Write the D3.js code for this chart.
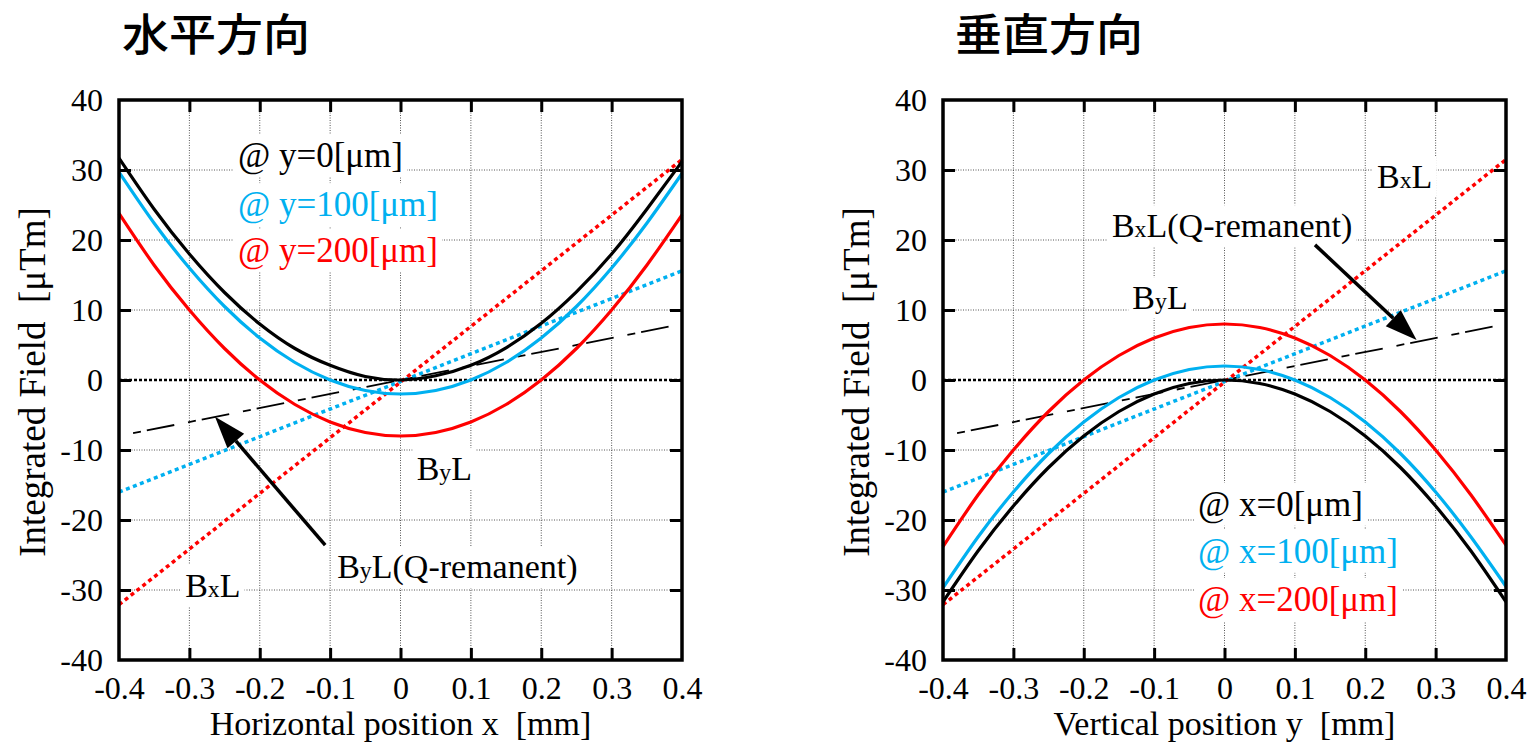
<!DOCTYPE html>
<html>
<head>
<meta charset="utf-8">
<script src="https://cdn.jsdelivr.net/npm/d3@7"></script>
<style>
  body { margin: 0; background: #fff; }
  svg { display: block; }
  text { font-family: "Liberation Serif", "Times New Roman", serif; fill: #000; }
  .title { font-family: "Noto Sans CJK JP", "Noto Sans CJK SC", sans-serif; font-weight: 500; }
</style>
</head>
<body>
<svg id="chart" width="1533" height="744"></svg>
<script>
// sample positions along the scan [mm]
const positions = [-0.4, -0.35, -0.3, -0.25, -0.2, -0.15, -0.1, -0.05, 0, 0.05, 0.1, 0.15, 0.2, 0.25, 0.3, 0.35, 0.4];

// horizontal scan: ByL at y = 0, 100, 200 um
const hByL0   = [31.7, 24.4, 18, 12.5, 8, 4.5, 2.1, 0.5, 0, 0.6, 2.1, 4.6, 8.1, 12.6, 18, 24.4, 31.2];
const hByL100 = [29.7, 22.4, 16, 10.5, 6, 2.5, 0, -1.5, -2, -1.5, 0, 2.5, 6, 10.5, 16, 22.4, 29.5];
const hByL200 = [23.8, 16.4, 10, 4.5, 0, -3.5, -6, -7.5, -8, -7.5, -6, -3.5, 0, 4.5, 10, 16.4, 23.6];

// vertical scan: ByL at x = 0, 100, 200 um
const vByL0   = [-31.7, -24.4, -18, -12.5, -8, -4.5, -2, -0.5, 0, -0.5, -2, -4.5, -8, -12.5, -18, -24.4, -31.7];
const vByL100 = [-29.7, -22.4, -16, -10.5, -6, -2.5, 0, 1.5, 2, 1.5, 0, -2.5, -6, -10.5, -16, -22.4, -29.5];
const vByL200 = [-23.8, -16.4, -10, -4.5, 0, 3.5, 6, 7.5, 8, 7.5, 6, 3.5, 0, -4.5, -10, -16.4, -23.6];

// BxL straight lines (end points)
const lineEnds = [-0.4, 0.4];
const bxL0   = [0, 0];
const bxL100 = [-16, 15.6];
const bxL200 = [-32.1, 31.5];

// Q-remanent line
const remEnds = [-0.38, 0.4];
const remL    = [-7.6, 8];

const xTicks = [-0.4, -0.3, -0.2, -0.1, 0, 0.1, 0.2, 0.3, 0.4];
const yTicks = [-40, -30, -20, -10, 0, 10, 20, 30, 40];

const colBlack = "#000", colCyan = "#00b0f0", colRed = "#ff0000";

const svg = d3.select("#chart");

const panels = [
  {
    left: 119, title: "水平方向", titleX: 122,
    xLabel: "Horizontal position x  [mm]",
    curves: [hByL0, hByL100, hByL200],
    legend: ["@ y=0[μm]", "@ y=100[μm]", "@ y=200[μm]"],
    legendAt: [-0.231, [30.4, 23.4, 16.9]],
    labels: [
      { parts: [["B"], ["y", 1], ["L"]], at: [0.023, -14.3] },
      { parts: [["B"], ["x", 1], ["L"]], at: [-0.306, -31.0] },
      { parts: [["B"], ["y", 1], ["L(Q-remanent)"]], at: [-0.09, -28.3] }
    ],
    arrow: { from: [-0.107, -23.6], to: [-0.2636, -5.24] }
  },
  {
    left: 943, title: "垂直方向", titleX: 955,
    xLabel: "Vertical position y  [mm]",
    curves: [vByL0, vByL100, vByL200],
    legend: ["@ x=0[μm]", "@ x=100[μm]", "@ x=200[μm]"],
    legendAt: [-0.0377, [-19.4, -26.1, -33.0]],
    labels: [
      { parts: [["B"], ["x", 1], ["L"]], at: [0.2167, 27.4] },
      { parts: [["B"], ["x", 1], ["L(Q-remanent)"]], at: [-0.16, 20.4] },
      { parts: [["B"], ["y", 1], ["L"]], at: [-0.131, 10.1] }
    ],
    arrow: { from: [0.1286, 19.3], to: [0.273, 5.7] }
  }
];

panels.forEach(drawPanel);

function drawPanel(p) {
  const x = d3.scaleLinear().domain([-0.4, 0.4]).range([p.left, p.left + 563]);
  const y = d3.scaleLinear().domain([-40, 40]).range([660, 100]);
  const g = svg.append("g");

  // title
  g.append("text").attr("class", "title")
    .attr("x", p.titleX).attr("y", 51)
    .attr("textLength", 188).attr("lengthAdjust", "spacingAndGlyphs")
    .style("font-size", "44px")
    .text(p.title);

  // grid
  const inner = d => Math.abs(d) > 1e-9;
  g.append("g").selectAll("line")
    .data(xTicks.slice(1, -1))
    .join("line")
    .attr("x1", d => x(d)).attr("x2", d => x(d))
    .attr("y1", y(40)).attr("y2", y(-40))
    .attr("stroke", "#555").attr("stroke-width", 1).attr("stroke-dasharray", "1,1.5");
  g.append("g").selectAll("line")
    .data(yTicks.slice(1, -1).filter(inner))
    .join("line")
    .attr("x1", x(-0.4)).attr("x2", x(0.4))
    .attr("y1", d => y(d)).attr("y2", d => y(d))
    .attr("stroke", "#555").attr("stroke-width", 1).attr("stroke-dasharray", "1,1.5");

  // text labels with white background
  const addLabel = (sel, parts, px, py, size, color) => {
    const t = sel.append("text")
      .attr("x", px).attr("y", py)
      .style("font-size", size + "px")
      .style("fill", color)
      .attr("xml:space", "preserve");
    parts.forEach(([s, sub]) => {
      t.append("tspan").text(s).style("font-size", sub ? (size * 0.7) + "px" : null);
    });
    const bb = t.node().getBBox();
    sel.insert("rect", () => t.node())
      .attr("x", bb.x - 4).attr("y", bb.y - 2)
      .attr("width", bb.width + 8).attr("height", bb.height + 4)
      .attr("fill", "#fff");
  };

  const lab = g.append("g");
  p.labels.forEach(l => addLabel(lab.append("g"), l.parts, x(l.at[0]), y(l.at[1]), 34, colBlack));
  const legColors = [colBlack, colCyan, colRed];
  p.legend.forEach((s, i) =>
    addLabel(lab.append("g"), [[s]], x(p.legendAt[0]), y(p.legendAt[1][i]), 35, legColors[i]));

  // straight BxL lines
  const straight = d3.line().x(d => x(d[0])).y(d => y(d[1]));
  const zipEnds = (xs, ys) => xs.map((v, i) => [v, ys[i]]);

  g.append("path").datum(zipEnds(remEnds, remL))
    .attr("d", straight).attr("fill", "none")
    .attr("stroke", colBlack).attr("stroke-width", 1.8)
    .attr("stroke-dasharray", "8,6,28,14");

  g.append("path").datum(zipEnds(lineEnds, bxL0))
    .attr("d", straight).attr("fill", "none")
    .attr("stroke", colBlack).attr("stroke-width", 2.6)
    .attr("stroke-dasharray", "3,2");

  [[bxL100, colCyan], [bxL200, colRed]].forEach(([vals, c]) => {
    g.append("path").datum(zipEnds(lineEnds, vals))
      .attr("d", straight).attr("fill", "none")
      .attr("stroke", c).attr("stroke-width", 3.5)
      .attr("stroke-dasharray", "4,3.5");
  });

  // ByL curves
  const curve = d3.line()
    .x((d, i) => x(positions[i]))
    .y(d => y(d))
    .curve(d3.curveNatural);
  [[p.curves[2], colRed], [p.curves[1], colCyan], [p.curves[0], colBlack]].forEach(([vals, c]) => {
    g.append("path").datum(vals)
      .attr("d", curve).attr("fill", "none")
      .attr("stroke", c).attr("stroke-width", 3.2);
  });

  // arrow
  const ax0 = x(p.arrow.from[0]), ay0 = y(p.arrow.from[1]);
  const ax1 = x(p.arrow.to[0]), ay1 = y(p.arrow.to[1]);
  const ang = Math.atan2(ay1 - ay0, ax1 - ax0);
  const headLen = 32, headW = 11;
  const bx = ax1 - headLen * Math.cos(ang), by = ay1 - headLen * Math.sin(ang);
  g.append("line")
    .attr("x1", ax0).attr("y1", ay0).attr("x2", bx).attr("y2", by)
    .attr("stroke", colBlack).attr("stroke-width", 3.5);
  g.append("path")
    .attr("d", `M${ax1},${ay1}L${bx + headW * Math.sin(ang)},${by - headW * Math.cos(ang)}L${bx - headW * Math.sin(ang)},${by + headW * Math.cos(ang)}Z`)
    .attr("fill", colBlack);

  // axes with inward ticks
  const fmt = d => String(d);
  const noEnds = (sel, vals) => sel.selectAll(".tick line")
    .filter(d => d === vals[0] || d === vals[vals.length - 1]).remove();
  const styleAxis = sel => {
    sel.select(".domain").remove();
    sel.selectAll(".tick line").attr("stroke", colBlack).attr("stroke-width", 3);
    sel.selectAll(".tick text")
      .style("font-family", "'Liberation Serif', serif")
      .style("font-size", "32px").attr("fill", colBlack);
  };

  const bottom = g.append("g").attr("transform", `translate(0,${y(-40)})`)
    .call(d3.axisBottom(x).tickValues(xTicks).tickFormat(fmt).tickSize(-12).tickPadding(16));
  styleAxis(bottom); noEnds(bottom, xTicks);

  const top = g.append("g").attr("transform", `translate(0,${y(40)})`)
    .call(d3.axisTop(x).tickValues(xTicks).tickFormat("").tickSize(-12));
  styleAxis(top); noEnds(top, xTicks);

  const leftAx = g.append("g").attr("transform", `translate(${x(-0.4)},0)`)
    .call(d3.axisLeft(y).tickValues(yTicks).tickFormat(fmt).tickSize(-12).tickPadding(16));
  styleAxis(leftAx); noEnds(leftAx, yTicks);

  const rightAx = g.append("g").attr("transform", `translate(${x(0.4)},0)`)
    .call(d3.axisRight(y).tickValues(yTicks).tickFormat("").tickSize(-12));
  styleAxis(rightAx); noEnds(rightAx, yTicks);

  // frame
  g.append("rect")
    .attr("x", x(-0.4)).attr("y", y(40))
    .attr("width", x(0.4) - x(-0.4)).attr("height", y(-40) - y(40))
    .attr("fill", "none").attr("stroke", colBlack).attr("stroke-width", 3.5);

  // axis titles
  g.append("text")
    .attr("x", (x(-0.4) + x(0.4)) / 2).attr("y", 735)
    .attr("text-anchor", "middle").attr("xml:space", "preserve")
    .style("font-size", "34px")
    .text(p.xLabel);
  g.append("text")
    .attr("transform", `translate(${p.left - 74},382) rotate(-90)`)
    .attr("text-anchor", "middle").attr("xml:space", "preserve")
    .style("font-size", "37px")
    .text("Integrated Field  [μTm]");
}
</script>
</body>
</html>
